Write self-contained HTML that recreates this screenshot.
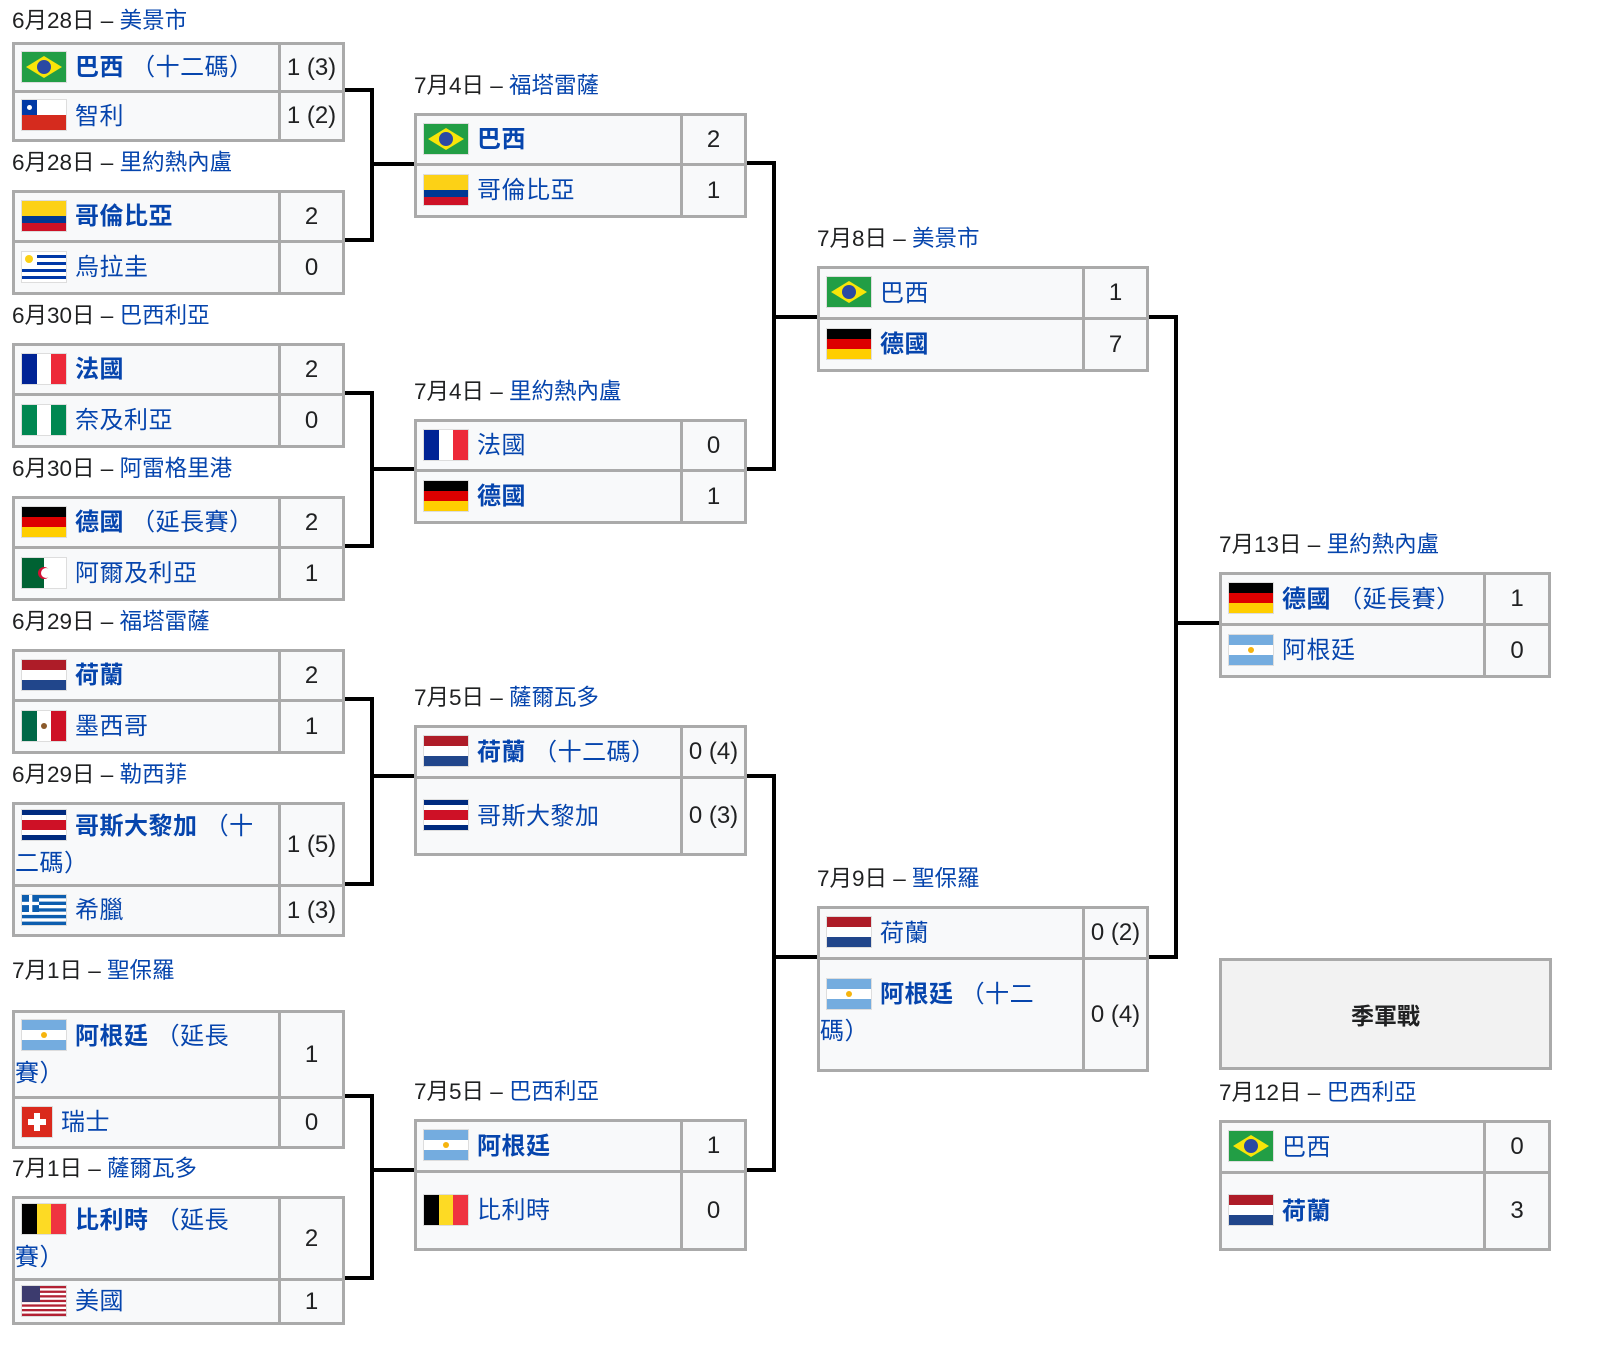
<!DOCTYPE html>
<html><head><meta charset="utf-8"><style>
body{margin:0;width:1598px;height:1356px;background:#fff;position:relative;font-family:"Liberation Sans","Noto Sans CJK TC",sans-serif;color:#202122;overflow:hidden}
table{position:absolute;border-collapse:collapse;background:#f8f9fa;table-layout:fixed}
td{border:3px solid #aaa;padding:0;font-size:24px}
td.t{padding-left:6px;line-height:37px;color:#0645ad;letter-spacing:0.5px}
td.s{text-align:center;color:#202122}
b{font-weight:bold}
.l{position:absolute;font-size:22.5px;line-height:26px;white-space:nowrap}
.l span{color:#0645ad}
svg.f{width:44px;height:30px;vertical-align:middle;margin-right:8px;border:1px solid #ddd;position:relative;top:-2px}
svg.sw{width:30px;height:30px}
.hd{position:absolute;left:1219px;top:958px;width:327px;height:106px;border:3px solid #aaa;background:#f2f2f2;font-size:23px;font-weight:bold;display:flex;align-items:center;justify-content:center}
</style></head><body>
<svg width="0" height="0" style="position:absolute"><defs>
<symbol id="br" viewBox="0 0 44 30"><rect width="44" height="30" fill="#229e45"/><polygon points="22,4 40,15 22,26 4,15" fill="#f8e509"/><circle cx="22" cy="15" r="7" fill="#2b49a3"/></symbol>
<symbol id="cl" viewBox="0 0 44 30"><rect width="44" height="30" fill="#fff"/><rect y="15" width="44" height="15" fill="#d52b1e"/><rect width="15" height="15" fill="#0039a6"/><circle cx="7.5" cy="7.5" r="2.5" fill="#fff"/></symbol>
<symbol id="co" viewBox="0 0 44 30"><rect width="44" height="15" fill="#fcd116"/><rect y="15" width="44" height="8" fill="#003893"/><rect y="22" width="44" height="8" fill="#ce1126"/></symbol>
<symbol id="uy" viewBox="0 0 44 30"><rect width="44" height="30" fill="#fff"/><g fill="#0038a8"><rect x="15" y="3" width="29" height="3"/><rect x="15" y="10" width="29" height="3"/><rect y="17" width="44" height="3"/><rect y="24" width="44" height="3"/></g><circle cx="7" cy="7" r="4" fill="#fcd116"/></symbol>
<symbol id="fr" viewBox="0 0 44 30"><rect width="15" height="30" fill="#002395"/><rect x="15" width="14" height="30" fill="#fff"/><rect x="29" width="15" height="30" fill="#ed2939"/></symbol>
<symbol id="ng" viewBox="0 0 44 30"><rect width="15" height="30" fill="#008751"/><rect x="15" width="14" height="30" fill="#fff"/><rect x="29" width="15" height="30" fill="#008751"/></symbol>
<symbol id="de" viewBox="0 0 44 30"><rect width="44" height="10" fill="#000"/><rect y="10" width="44" height="10" fill="#dd0000"/><rect y="20" width="44" height="10" fill="#ffce00"/></symbol>
<symbol id="dz" viewBox="0 0 44 30"><rect width="22" height="30" fill="#006233"/><rect x="22" width="22" height="30" fill="#fff"/><circle cx="22" cy="15" r="6" fill="#d21034"/><circle cx="24" cy="15" r="5" fill="#fff"/></symbol>
<symbol id="nl" viewBox="0 0 44 30"><rect width="44" height="10" fill="#ae1c28"/><rect y="10" width="44" height="10" fill="#fff"/><rect y="20" width="44" height="10" fill="#21468b"/></symbol>
<symbol id="mx" viewBox="0 0 44 30"><rect width="15" height="30" fill="#006847"/><rect x="15" width="14" height="30" fill="#fff"/><rect x="29" width="15" height="30" fill="#ce1126"/><circle cx="22" cy="15" r="3" fill="#8b5a2b"/></symbol>
<symbol id="cr" viewBox="0 0 44 30"><rect width="44" height="30" fill="#002b7f"/><rect y="5" width="44" height="20" fill="#fff"/><rect y="10" width="44" height="10" fill="#ce1126"/></symbol>
<symbol id="gr" viewBox="0 0 44 30"><rect width="44" height="30" fill="#0d5eaf"/><g fill="#fff"><rect y="3.3" width="44" height="3.3"/><rect y="10" width="44" height="3.3"/><rect y="16.6" width="44" height="3.3"/><rect y="23.3" width="44" height="3.3"/></g><rect width="17" height="17" fill="#0d5eaf"/><rect x="7" width="3.3" height="17" fill="#fff"/><rect y="6.8" width="17" height="3.3" fill="#fff"/></symbol>
<symbol id="ar" viewBox="0 0 44 30"><rect width="44" height="30" fill="#74acdf"/><rect y="10" width="44" height="10" fill="#fff"/><circle cx="22" cy="15" r="3" fill="#f6b40e"/></symbol>
<symbol id="ch" viewBox="0 0 30 30"><rect width="30" height="30" fill="#da291c"/><rect x="12" y="6" width="6" height="18" fill="#fff"/><rect x="6" y="12" width="18" height="6" fill="#fff"/></symbol>
<symbol id="be" viewBox="0 0 44 30"><rect width="15" height="30" fill="#000"/><rect x="15" width="14" height="30" fill="#fdda24"/><rect x="29" width="15" height="30" fill="#ef3340"/></symbol>
<symbol id="us" viewBox="0 0 44 30"><rect width="44" height="30" fill="#fff"/><g fill="#b22234"><rect width="44" height="2.3"/><rect y="4.6" width="44" height="2.3"/><rect y="9.2" width="44" height="2.3"/><rect y="13.8" width="44" height="2.3"/><rect y="18.4" width="44" height="2.3"/><rect y="23" width="44" height="2.3"/><rect y="27.6" width="44" height="2.4"/></g><rect width="18" height="16" fill="#3c3b6e"/></symbol>
</defs></svg>

<svg width="1598" height="1356" style="position:absolute;left:0;top:0" fill="none" stroke="#000" stroke-width="4">
<path d="M345 90H372V240H345M372 164H414"/>
<path d="M345 393H372V546H345M372 469H414"/>
<path d="M345 699H372V884H345M372 776H414"/>
<path d="M345 1096H372V1278H345M372 1170H414"/>
<path d="M747 163H774V469H747M774 317H817"/>
<path d="M747 776H774V1170H747M774 957H817"/>
<path d="M1149 317H1176V957H1149M1176 623H1219"/>
</svg>

<div class="l" style="left:12px;top:8px">6月28日 – <span>美景市</span></div>
<table style="left:12px;top:42px;width:333px"><col style="width:266px"><col>
<tr style="height:48px"><td class="t"><svg class="f"><use href="#br"/></svg><b>巴西</b> （十二碼）</td><td class="s">1 (3)</td></tr>
<tr style="height:49px"><td class="t"><svg class="f"><use href="#cl"/></svg>智利</td><td class="s">1 (2)</td></tr></table>

<div class="l" style="left:12px;top:150px">6月28日 – <span>里約熱內盧</span></div>
<table style="left:12px;top:190px;width:333px"><col style="width:266px"><col>
<tr style="height:50px"><td class="t"><svg class="f"><use href="#co"/></svg><b>哥倫比亞</b></td><td class="s">2</td></tr>
<tr style="height:52px"><td class="t"><svg class="f"><use href="#uy"/></svg>烏拉圭</td><td class="s">0</td></tr></table>

<div class="l" style="left:12px;top:303px">6月30日 – <span>巴西利亞</span></div>
<table style="left:12px;top:343px;width:333px"><col style="width:266px"><col>
<tr style="height:50px"><td class="t"><svg class="f"><use href="#fr"/></svg><b>法國</b></td><td class="s">2</td></tr>
<tr style="height:52px"><td class="t"><svg class="f"><use href="#ng"/></svg>奈及利亞</td><td class="s">0</td></tr></table>

<div class="l" style="left:12px;top:456px">6月30日 – <span>阿雷格里港</span></div>
<table style="left:12px;top:496px;width:333px"><col style="width:266px"><col>
<tr style="height:50px"><td class="t"><svg class="f"><use href="#de"/></svg><b>德國</b> （延長賽）</td><td class="s">2</td></tr>
<tr style="height:52px"><td class="t"><svg class="f"><use href="#dz"/></svg>阿爾及利亞</td><td class="s">1</td></tr></table>

<div class="l" style="left:12px;top:609px">6月29日 – <span>福塔雷薩</span></div>
<table style="left:12px;top:649px;width:333px"><col style="width:266px"><col>
<tr style="height:50px"><td class="t"><svg class="f"><use href="#nl"/></svg><b>荷蘭</b></td><td class="s">2</td></tr>
<tr style="height:52px"><td class="t"><svg class="f"><use href="#mx"/></svg>墨西哥</td><td class="s">1</td></tr></table>

<div class="l" style="left:12px;top:762px">6月29日 – <span>勒西菲</span></div>
<table style="left:12px;top:802px;width:333px"><col style="width:266px"><col>
<tr style="height:82px"><td class="t" style="padding-left:0"><svg class="f" style="margin-left:6px"><use href="#cr"/></svg><b>哥斯大黎加</b> （十<br>二碼）</td><td class="s">1 (5)</td></tr>
<tr style="height:50px"><td class="t"><svg class="f"><use href="#gr"/></svg>希臘</td><td class="s">1 (3)</td></tr></table>

<div class="l" style="left:12px;top:958px">7月1日 – <span>聖保羅</span></div>
<table style="left:12px;top:1010px;width:333px"><col style="width:266px"><col>
<tr style="height:86px"><td class="t" style="padding-left:0"><svg class="f" style="margin-left:6px"><use href="#ar"/></svg><b>阿根廷</b> （延長<br>賽）</td><td class="s">1</td></tr>
<tr style="height:50px"><td class="t"><svg class="f sw"><use href="#ch"/></svg>瑞士</td><td class="s">0</td></tr></table>

<div class="l" style="left:12px;top:1156px">7月1日 – <span>薩爾瓦多</span></div>
<table style="left:12px;top:1196px;width:333px"><col style="width:266px"><col>
<tr style="height:82px"><td class="t" style="padding-left:0"><svg class="f" style="margin-left:6px"><use href="#be"/></svg><b>比利時</b> （延長<br>賽）</td><td class="s">2</td></tr>
<tr style="height:44px"><td class="t"><svg class="f"><use href="#us"/></svg>美國</td><td class="s">1</td></tr></table>

<div class="l" style="left:414px;top:73px">7月4日 – <span>福塔雷薩</span></div>
<table style="left:414px;top:113px;width:333px"><col style="width:266px"><col>
<tr style="height:50px"><td class="t"><svg class="f"><use href="#br"/></svg><b>巴西</b></td><td class="s">2</td></tr>
<tr style="height:52px"><td class="t"><svg class="f"><use href="#co"/></svg>哥倫比亞</td><td class="s">1</td></tr></table>

<div class="l" style="left:414px;top:379px">7月4日 – <span>里約熱內盧</span></div>
<table style="left:414px;top:419px;width:333px"><col style="width:266px"><col>
<tr style="height:50px"><td class="t"><svg class="f"><use href="#fr"/></svg>法國</td><td class="s">0</td></tr>
<tr style="height:52px"><td class="t"><svg class="f"><use href="#de"/></svg><b>德國</b></td><td class="s">1</td></tr></table>

<div class="l" style="left:414px;top:685px">7月5日 – <span>薩爾瓦多</span></div>
<table style="left:414px;top:725px;width:333px"><col style="width:266px"><col>
<tr style="height:51px"><td class="t"><svg class="f"><use href="#nl"/></svg><b>荷蘭</b> （十二碼）</td><td class="s">0 (4)</td></tr>
<tr style="height:77px"><td class="t"><svg class="f"><use href="#cr"/></svg>哥斯大黎加</td><td class="s">0 (3)</td></tr></table>

<div class="l" style="left:414px;top:1079px">7月5日 – <span>巴西利亞</span></div>
<table style="left:414px;top:1119px;width:333px"><col style="width:266px"><col>
<tr style="height:51px"><td class="t"><svg class="f"><use href="#ar"/></svg><b>阿根廷</b></td><td class="s">1</td></tr>
<tr style="height:78px"><td class="t"><svg class="f"><use href="#be"/></svg>比利時</td><td class="s">0</td></tr></table>

<div class="l" style="left:817px;top:226px">7月8日 – <span>美景市</span></div>
<table style="left:817px;top:266px;width:332px"><col style="width:265px"><col>
<tr style="height:51px"><td class="t"><svg class="f"><use href="#br"/></svg>巴西</td><td class="s">1</td></tr>
<tr style="height:52px"><td class="t"><svg class="f"><use href="#de"/></svg><b>德國</b></td><td class="s">7</td></tr></table>

<div class="l" style="left:817px;top:866px">7月9日 – <span>聖保羅</span></div>
<table style="left:817px;top:906px;width:332px"><col style="width:265px"><col>
<tr style="height:51px"><td class="t"><svg class="f"><use href="#nl"/></svg>荷蘭</td><td class="s">0 (2)</td></tr>
<tr style="height:112px"><td class="t" style="padding-left:0;vertical-align:top;padding-top:16px"><svg class="f" style="margin-left:6px"><use href="#ar"/></svg><b>阿根廷</b> （十二<br>碼）</td><td class="s">0 (4)</td></tr></table>

<div class="l" style="left:1219px;top:532px">7月13日 – <span>里約熱內盧</span></div>
<table style="left:1219px;top:572px;width:332px"><col style="width:264px"><col>
<tr style="height:51px"><td class="t"><svg class="f"><use href="#de"/></svg><b>德國</b> （延長賽）</td><td class="s">1</td></tr>
<tr style="height:52px"><td class="t"><svg class="f"><use href="#ar"/></svg>阿根廷</td><td class="s">0</td></tr></table>

<div class="hd">季軍戰</div>
<div class="l" style="left:1219px;top:1080px">7月12日 – <span>巴西利亞</span></div>
<table style="left:1219px;top:1120px;width:332px"><col style="width:264px"><col>
<tr style="height:51px"><td class="t"><svg class="f"><use href="#br"/></svg>巴西</td><td class="s">0</td></tr>
<tr style="height:77px"><td class="t"><svg class="f"><use href="#nl"/></svg><b>荷蘭</b></td><td class="s">3</td></tr></table>
</body></html>
